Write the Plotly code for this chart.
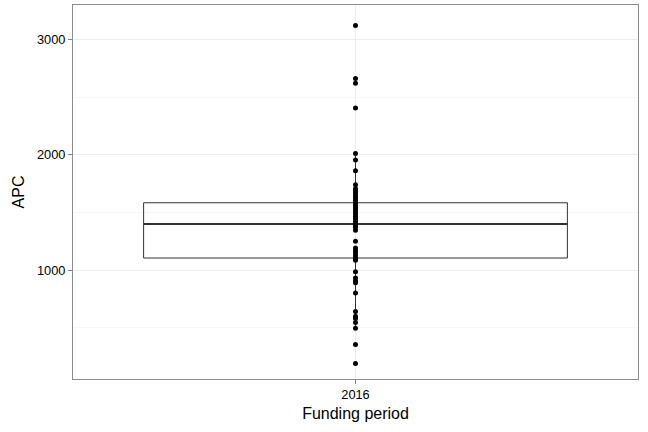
import plotly.graph_objects as go

# Data
category = "2016"
apc_values = [3120, 2660, 2620, 2405,
               2010, 1955, 1860, 1740, 1705, 1685, 1665, 1645, 1625, 1605,
               1585, 1565, 1545, 1525, 1505, 1485, 1465, 1445, 1425, 1405,
               1390, 1370, 1345, 1250, 1190, 1170, 1150, 1125, 1105, 1085,
               985, 930, 905, 890, 800, 640, 600, 580, 545, 495, 355, 190]
q1 = [1104]
median = [1400]
q3 = [1583]
lower_fence = [494]
upper_fence = [2010]

box_width = 0.9
xpos = [0] * len(apc_values)

fig = go.Figure()
fig.add_trace(go.Box(
    x=[0], q1=q1, median=median, q3=q3,
    lowerfence=lower_fence, upperfence=upper_fence,
    width=box_width, whiskerwidth=0, boxpoints=False,
    fillcolor="rgba(255,255,255,0)",
    line=dict(color="#333333", width=1),
    hoverinfo="skip", showlegend=False,
))
# thicker median line (ggplot fatten)
fig.add_trace(go.Scatter(
    x=[-box_width / 2, box_width / 2], y=[median[0], median[0]],
    mode="lines", line=dict(color="#333333", width=2),
    hoverinfo="skip", showlegend=False,
))
fig.add_trace(go.Scatter(
    x=xpos, y=apc_values, mode="markers",
    marker=dict(color="black", size=5),
    showlegend=False,
))

font = "Liberation Sans, Arial, Helvetica, sans-serif"
fig.update_layout(
    width=648, height=432,
    margin=dict(l=73, r=10, t=5, b=53),
    paper_bgcolor="white", plot_bgcolor="white",
    font=dict(family=font, color="black"),
    xaxis=dict(
        range=[-0.6, 0.6], tickvals=[0], ticktext=[category],
        showgrid=True, gridcolor="#ededed", gridwidth=1,
        zeroline=False, ticks="outside", ticklen=4, tickcolor="#7f7f7f",
        tickfont=dict(size=12.8, color="black"),
        showline=True, mirror=True, linecolor="#8c8c8c", linewidth=1,
        title=dict(text="Funding period", font=dict(size=16), standoff=6),
    ),
    yaxis=dict(
        range=[55, 3298], tickvals=[1000, 2000, 3000],
        showgrid=True, gridcolor="#ededed", gridwidth=1,
        minor=dict(tickvals=[500, 1500, 2500], showgrid=True,
                   gridcolor="#f7f7f7", gridwidth=1, ticks=""),
        zeroline=False, ticks="outside", ticklen=4, tickcolor="#7f7f7f",
        tickfont=dict(size=12.8, color="black"),
        showline=True, mirror=True, linecolor="#8c8c8c", linewidth=1,
        title=dict(text="APC", font=dict(size=16), standoff=8),
    ),
)

fig.write_html("out.html", config={"displayModeBar": False},
               post_script="document.body.style.margin='0';")
